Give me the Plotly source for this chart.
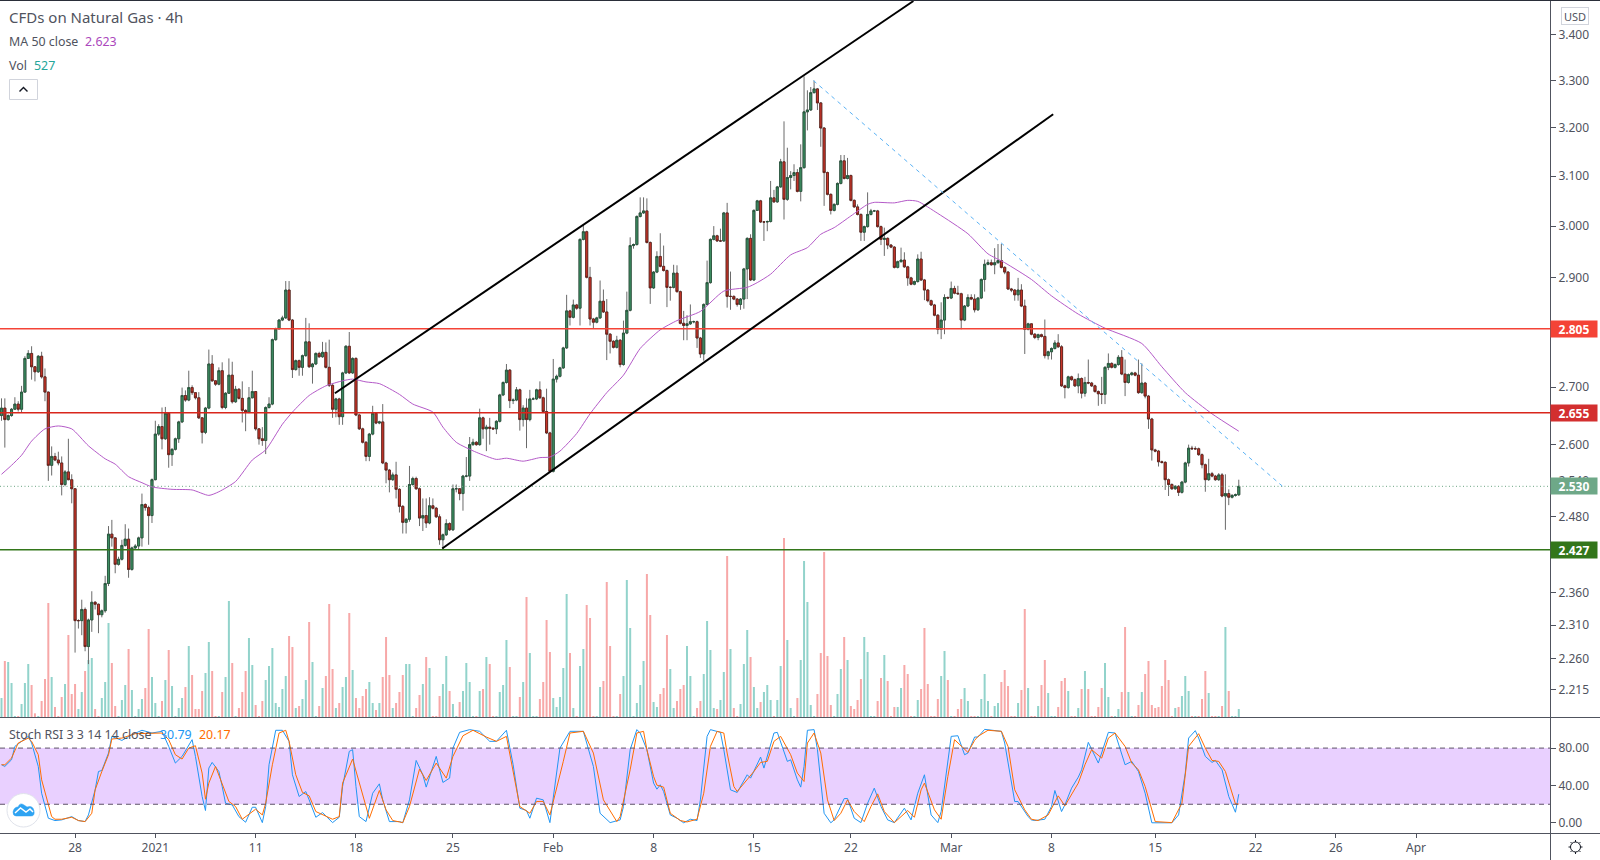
import numpy as np
import plotly.graph_objects as go

# price bars, 4h, one value per bar
first_open = 2.650
closes = [
    2.663, 2.643, 2.650, 2.661, 2.670, 2.661, 2.691, 2.751, 2.760, 2.736,
    2.727, 2.755, 2.718, 2.691, 2.565, 2.580, 2.574, 2.569, 2.533, 2.554,
    2.541, 2.526, 2.317, 2.317, 2.334, 2.278, 2.318, 2.345, 2.342, 2.326,
    2.332, 2.374, 2.452, 2.446, 2.404, 2.412, 2.434, 2.444, 2.396, 2.430,
    2.433, 2.446, 2.500, 2.495, 2.482, 2.541, 2.618, 2.631, 2.610, 2.654,
    2.583, 2.592, 2.610, 2.639, 2.685, 2.677, 2.699, 2.690, 2.681, 2.646,
    2.621, 2.663, 2.741, 2.711, 2.705, 2.729, 2.664, 2.689, 2.721, 2.674,
    2.696, 2.680, 2.659, 2.656, 2.681, 2.692, 2.627, 2.610, 2.607, 2.664,
    2.670, 2.785, 2.805, 2.821, 2.825, 2.877, 2.821, 2.731, 2.747, 2.735,
    2.756, 2.781, 2.736, 2.741, 2.760, 2.754, 2.762, 2.735, 2.703, 2.661,
    2.679, 2.648, 2.725, 2.773, 2.725, 2.751, 2.651, 2.627, 2.604, 2.580,
    2.618, 2.654, 2.637, 2.639, 2.569, 2.557, 2.541, 2.549, 2.525, 2.497,
    2.471, 2.476, 2.533, 2.543, 2.526, 2.478, 2.482, 2.470, 2.498, 2.494,
    2.480, 2.443, 2.451, 2.469, 2.459, 2.526, 2.526, 2.518, 2.547, 2.547,
    2.600, 2.604, 2.600, 2.646, 2.627, 2.630, 2.628, 2.627, 2.640, 2.686,
    2.708, 2.730, 2.676, 2.677, 2.695, 2.643, 2.663, 2.643, 2.679, 2.679,
    2.695, 2.681, 2.657, 2.620, 2.555, 2.714, 2.719, 2.734, 2.770, 2.838,
    2.826, 2.849, 2.843, 2.974, 2.989, 2.901, 2.823, 2.817, 2.825, 2.856,
    2.836, 2.795, 2.782, 2.771, 2.784, 2.740, 2.797, 2.839, 2.962, 2.964,
    3.019, 3.026, 3.030, 2.968, 2.881, 2.911, 2.941, 2.922, 2.914, 2.882,
    2.882, 2.909, 2.874, 2.815, 2.811, 2.814, 2.818, 2.818, 2.788, 2.759,
    2.850, 2.891, 2.974, 2.981, 2.971, 2.971, 3.026, 2.865, 2.865, 2.860,
    2.850, 2.860, 2.917, 2.976, 2.896, 3.031, 3.050, 3.008, 3.008, 3.009,
    3.056, 3.048, 3.078, 3.129, 3.053, 3.097, 3.101, 3.107, 3.069, 3.117,
    3.233, 3.237, 3.274, 3.282, 3.252, 3.199, 3.107, 3.063, 3.031, 3.043,
    3.085, 3.131, 3.095, 3.101, 3.051, 3.038, 3.023, 2.988, 2.999, 3.023,
    3.030, 3.030, 2.999, 2.974, 2.976, 2.963, 2.959, 2.920, 2.931, 2.934,
    2.921, 2.900, 2.888, 2.893, 2.936, 2.896, 2.877, 2.857, 2.849, 2.830,
    2.804, 2.821, 2.863, 2.862, 2.880, 2.871, 2.870, 2.821, 2.847, 2.863,
    2.860, 2.840, 2.862, 2.897, 2.926, 2.929, 2.925, 2.929, 2.933, 2.920,
    2.911, 2.879, 2.877, 2.868, 2.877, 2.847, 2.804, 2.814, 2.795, 2.789,
    2.794, 2.791, 2.756, 2.763, 2.769, 2.779, 2.772, 2.702, 2.699, 2.718,
    2.713, 2.702, 2.715, 2.689, 2.708, 2.707, 2.702, 2.692, 2.688, 2.687,
    2.735, 2.742, 2.735, 2.740, 2.753, 2.723, 2.708, 2.722, 2.725, 2.721,
    2.690, 2.707, 2.684, 2.644, 2.591, 2.589, 2.571, 2.570, 2.541, 2.533,
    2.526, 2.530, 2.520, 2.537, 2.569, 2.594, 2.593, 2.593, 2.583, 2.566,
    2.541, 2.551, 2.547, 2.541, 2.549, 2.514, 2.518, 2.512, 2.515, 2.516,
    2.530,
]
highs = [
    2.680, 2.680, 2.652, 2.663, 2.682, 2.675, 2.702, 2.755, 2.766, 2.773,
    2.737, 2.757, 2.763, 2.733, 2.692, 2.597, 2.586, 2.588, 2.580, 2.557,
    2.610, 2.550, 2.526, 2.319, 2.349, 2.337, 2.320, 2.362, 2.347, 2.343,
    2.334, 2.386, 2.465, 2.475, 2.447, 2.416, 2.443, 2.468, 2.461, 2.432,
    2.436, 2.448, 2.518, 2.502, 2.498, 2.543, 2.641, 2.635, 2.664, 2.665,
    2.655, 2.594, 2.612, 2.641, 2.699, 2.694, 2.729, 2.703, 2.691, 2.691,
    2.647, 2.665, 2.767, 2.757, 2.712, 2.735, 2.744, 2.691, 2.751, 2.745,
    2.702, 2.698, 2.710, 2.661, 2.700, 2.729, 2.693, 2.628, 2.630, 2.666,
    2.682, 2.787, 2.807, 2.823, 2.829, 2.894, 2.894, 2.823, 2.749, 2.749,
    2.758, 2.825, 2.815, 2.743, 2.762, 2.763, 2.781, 2.780, 2.785, 2.705,
    2.681, 2.681, 2.727, 2.775, 2.799, 2.753, 2.753, 2.653, 2.629, 2.606,
    2.620, 2.667, 2.656, 2.641, 2.670, 2.571, 2.559, 2.553, 2.571, 2.527,
    2.499, 2.478, 2.564, 2.546, 2.546, 2.528, 2.510, 2.510, 2.512, 2.510,
    2.496, 2.484, 2.453, 2.476, 2.471, 2.533, 2.533, 2.527, 2.549, 2.579,
    2.613, 2.610, 2.606, 2.662, 2.648, 2.634, 2.646, 2.630, 2.642, 2.688,
    2.710, 2.741, 2.732, 2.680, 2.700, 2.697, 2.668, 2.680, 2.695, 2.682,
    2.697, 2.710, 2.683, 2.697, 2.622, 2.750, 2.722, 2.736, 2.772, 2.868,
    2.840, 2.859, 2.851, 2.976, 3.003, 2.991, 2.921, 2.825, 2.827, 2.895,
    2.878, 2.860, 2.797, 2.784, 2.792, 2.786, 2.820, 2.874, 2.978, 2.966,
    3.021, 3.057, 3.057, 3.055, 2.970, 2.913, 2.951, 2.986, 2.962, 2.916,
    2.884, 2.925, 2.924, 2.876, 2.838, 2.830, 2.850, 2.820, 2.820, 2.790,
    2.852, 2.933, 2.976, 3.000, 2.983, 2.995, 3.028, 3.046, 2.912, 2.867,
    2.862, 2.862, 2.919, 2.978, 2.984, 3.033, 3.052, 3.052, 3.010, 3.011,
    3.090, 3.072, 3.080, 3.135, 3.213, 3.158, 3.110, 3.124, 3.114, 3.165,
    3.309, 3.279, 3.286, 3.300, 3.284, 3.254, 3.201, 3.109, 3.065, 3.045,
    3.087, 3.143, 3.143, 3.137, 3.103, 3.053, 3.043, 3.025, 3.001, 3.067,
    3.034, 3.032, 3.032, 3.001, 2.997, 2.978, 2.965, 2.961, 2.933, 2.958,
    2.949, 2.923, 2.902, 2.895, 2.945, 2.950, 2.898, 2.879, 2.859, 2.851,
    2.832, 2.854, 2.869, 2.865, 2.893, 2.885, 2.885, 2.872, 2.849, 2.869,
    2.869, 2.869, 2.864, 2.899, 2.935, 2.935, 2.935, 2.957, 2.965, 2.965,
    2.922, 2.913, 2.881, 2.879, 2.900, 2.888, 2.859, 2.816, 2.815, 2.797,
    2.796, 2.796, 2.822, 2.765, 2.771, 2.784, 2.795, 2.775, 2.704, 2.720,
    2.720, 2.715, 2.724, 2.717, 2.718, 2.749, 2.709, 2.704, 2.694, 2.718,
    2.737, 2.760, 2.744, 2.742, 2.757, 2.766, 2.749, 2.724, 2.727, 2.727,
    2.749, 2.742, 2.709, 2.686, 2.646, 2.593, 2.591, 2.573, 2.572, 2.543,
    2.535, 2.532, 2.532, 2.539, 2.571, 2.600, 2.598, 2.597, 2.595, 2.585,
    2.568, 2.576, 2.554, 2.549, 2.552, 2.552, 2.550, 2.525, 2.517, 2.518,
    2.541,
]
lows = [
    2.641, 2.595, 2.641, 2.648, 2.660, 2.657, 2.655, 2.690, 2.750, 2.713,
    2.710, 2.725, 2.715, 2.675, 2.539, 2.548, 2.572, 2.565, 2.515, 2.530,
    2.540, 2.502, 2.269, 2.305, 2.295, 2.271, 2.252, 2.300, 2.334, 2.298,
    2.322, 2.329, 2.370, 2.432, 2.390, 2.402, 2.410, 2.432, 2.383, 2.394,
    2.428, 2.427, 2.432, 2.490, 2.435, 2.470, 2.540, 2.615, 2.592, 2.608,
    2.561, 2.564, 2.590, 2.603, 2.637, 2.674, 2.675, 2.686, 2.678, 2.644,
    2.602, 2.618, 2.661, 2.709, 2.702, 2.703, 2.661, 2.661, 2.688, 2.671,
    2.672, 2.678, 2.638, 2.623, 2.654, 2.680, 2.624, 2.600, 2.598, 2.584,
    2.662, 2.668, 2.783, 2.803, 2.819, 2.823, 2.819, 2.716, 2.729, 2.720,
    2.720, 2.754, 2.734, 2.706, 2.739, 2.752, 2.752, 2.733, 2.700, 2.646,
    2.647, 2.634, 2.634, 2.723, 2.723, 2.723, 2.649, 2.625, 2.602, 2.572,
    2.572, 2.616, 2.635, 2.635, 2.567, 2.535, 2.520, 2.539, 2.510, 2.487,
    2.453, 2.453, 2.472, 2.531, 2.524, 2.465, 2.457, 2.462, 2.468, 2.492,
    2.478, 2.435, 2.428, 2.449, 2.457, 2.457, 2.520, 2.507, 2.490, 2.545,
    2.539, 2.598, 2.598, 2.598, 2.610, 2.589, 2.600, 2.625, 2.618, 2.638,
    2.684, 2.706, 2.663, 2.670, 2.675, 2.624, 2.631, 2.594, 2.640, 2.677,
    2.677, 2.679, 2.655, 2.618, 2.553, 2.553, 2.708, 2.717, 2.732, 2.768,
    2.811, 2.824, 2.840, 2.811, 2.972, 2.899, 2.811, 2.805, 2.815, 2.823,
    2.834, 2.748, 2.760, 2.769, 2.769, 2.735, 2.738, 2.795, 2.837, 2.956,
    2.962, 3.017, 3.024, 2.966, 2.851, 2.879, 2.909, 2.920, 2.912, 2.845,
    2.857, 2.880, 2.872, 2.813, 2.784, 2.784, 2.812, 2.815, 2.770, 2.752,
    2.747, 2.848, 2.889, 2.972, 2.969, 2.969, 2.969, 2.844, 2.840, 2.858,
    2.846, 2.840, 2.842, 2.860, 2.894, 2.894, 3.030, 3.006, 2.971, 2.990,
    3.007, 3.046, 3.046, 3.076, 3.013, 3.050, 3.073, 3.090, 3.067, 3.049,
    3.115, 3.194, 3.235, 3.272, 3.237, 3.160, 3.040, 3.061, 3.023, 3.029,
    3.041, 3.083, 3.093, 3.093, 3.049, 3.036, 3.021, 2.971, 2.971, 2.997,
    3.021, 3.028, 2.997, 2.963, 2.942, 2.955, 2.957, 2.918, 2.918, 2.929,
    2.919, 2.885, 2.886, 2.886, 2.891, 2.894, 2.858, 2.854, 2.847, 2.828,
    2.795, 2.786, 2.795, 2.860, 2.860, 2.869, 2.868, 2.804, 2.819, 2.845,
    2.858, 2.835, 2.838, 2.860, 2.874, 2.924, 2.923, 2.907, 2.927, 2.918,
    2.907, 2.877, 2.873, 2.857, 2.857, 2.845, 2.759, 2.802, 2.793, 2.786,
    2.784, 2.789, 2.751, 2.749, 2.749, 2.767, 2.770, 2.700, 2.680, 2.697,
    2.711, 2.700, 2.689, 2.680, 2.683, 2.705, 2.700, 2.690, 2.667, 2.670,
    2.670, 2.730, 2.733, 2.733, 2.738, 2.721, 2.684, 2.706, 2.720, 2.719,
    2.688, 2.688, 2.680, 2.627, 2.573, 2.587, 2.563, 2.568, 2.524, 2.514,
    2.524, 2.524, 2.514, 2.518, 2.535, 2.563, 2.591, 2.591, 2.581, 2.560,
    2.521, 2.539, 2.545, 2.539, 2.539, 2.512, 2.459, 2.499, 2.510, 2.513,
    2.514,
]
volumes = [
    1254, 3696, 3630, 2244, 22, 22, 858, 2244, 3498, 2112,
    242, 22, 1056, 2508, 7524, 2640, 660, 22, 1320, 2178,
    5412, 1518, 2178, 528, 1650, 3036, 3762, 3894, 528, 22,
    1254, 2310, 6204, 3564, 726, 22, 1122, 2112, 4488, 1782,
    22, 528, 1188, 1914, 5808, 2640, 924, 22, 1056, 2442,
    4422, 2046, 22, 594, 1254, 1980, 4686, 2772, 528, 528,
    1716, 2904, 4950, 3036, 22, 22, 1650, 2640, 7656, 3564,
    22, 594, 1650, 3036, 5214, 3432, 792, 22, 1056, 2442,
    3366, 4554, 924, 660, 1848, 2706, 5346, 4620, 594, 726,
    1188, 2442, 6270, 3630, 22, 726, 1914, 2706, 7458, 3168,
    594, 924, 1980, 2640, 6864, 3102, 1254, 594, 1386, 1848,
    2310, 924, 462, 924, 2640, 5280, 2772, 594, 924, 1650,
    2772, 3498, 3498, 22, 594, 1452, 2178, 3960, 3234, 22,
    22, 1386, 2178, 4026, 1716, 858, 22, 990, 1716, 3564,
    2310, 22, 22, 1716, 1848, 3960, 3498, 22, 22, 1650,
    2112, 5082, 3300, 22, 22, 1320, 2310, 7920, 4224, 22,
    22, 1188, 2310, 6402, 4290, 1254, 660, 1320, 3234, 8118,
    4224, 594, 22, 3366, 4488, 7392, 6534, 22, 22, 1980,
    2376, 8910, 4686, 22, 22, 1518, 2706, 9042, 5874, 22,
    924, 2112,
    3696, 9438, 6732, 990, 660, 1518, 1914, 5412, 3168, 594,
    1056, 1848, 2112, 4686, 2706, 22, 594, 1056, 2838, 6336,
    4422, 594, 528, 1122, 2970, 10626, 4488, 594, 22, 858,
    3498, 5742, 3960, 1980, 594, 990, 1650, 2112, 1122, 22,
    1122, 3366, 11814, 5082, 594, 22, 1254, 3762, 10296, 7590,
    792, 22, 1518, 4224, 10890, 4026, 792, 22, 1518, 3168,
    5280, 3762, 726, 528, 1122, 2508, 5280, 4290, 22, 22,
    1056, 2574, 4092, 2376, 22, 660, 660, 1914, 3432, 2838,
    22, 22, 1122, 1848, 5874, 2178, 22, 22, 1188, 2706,
    4356, 2442, 22, 22, 528, 1188, 1914, 1056, 22, 22,
    22, 1188, 2838, 1056, 22, 726, 924, 2310, 3102, 2046,
    22, 22, 924, 1782, 7128, 1914, 22, 22, 726, 2112,
    3762, 1584, 22, 22, 660, 2376, 2574, 1716, 22, 22,
    594, 1848, 3036, 1848, 22, 22, 660, 1914, 3564, 1320,
    22, 22, 528, 1650, 5940, 1650, 22, 22, 792, 1650,
    2838, 3696, 792, 594, 660, 2046, 3762, 2442, 22, 594,
    660, 1386, 2706, 1716, 22, 22, 22, 1188, 3036, 1584,
    22, 22, 22, 726, 5940, 1716, 22, 22, 527,
]

# moving average read at these bars
ma_bars = [
    0, 3, 6, 9, 13, 17, 21, 26, 31, 34, 38, 42, 45, 51, 57, 62, 65, 70, 75, 79,
    84, 87, 92, 97, 102, 105, 109, 113, 119, 123, 129, 132, 136, 142, 148, 151,
    156, 161, 164, 167, 172, 176, 181, 186, 191, 197, 202, 209, 216, 223, 226,
    230, 236, 241, 245, 249, 254, 259, 261, 267, 271, 274, 280, 289, 295, 300,
    308, 314, 322, 330, 341, 347, 354, 362, 370,
]
ma_values = [
    2.550, 2.565, 2.582, 2.606, 2.627, 2.632, 2.627, 2.598, 2.576, 2.567, 2.546,
    2.536, 2.529, 2.525, 2.524, 2.515, 2.521, 2.538, 2.574, 2.591, 2.635, 2.656,
    2.685, 2.702, 2.711, 2.714, 2.709, 2.706, 2.687, 2.670, 2.656, 2.630, 2.604,
    2.587, 2.575, 2.577, 2.572, 2.578, 2.579, 2.589, 2.619, 2.653, 2.690, 2.721,
    2.769, 2.803, 2.820, 2.837, 2.875, 2.882, 2.891, 2.907, 2.944, 2.958, 2.984,
    2.997, 3.020, 3.043, 3.047, 3.046, 3.051, 3.049, 3.025, 2.985, 2.946, 2.929,
    2.897, 2.866, 2.832, 2.806, 2.778, 2.736, 2.690, 2.653, 2.623,
]

# stoch rsi read at these bars
k_bars = [
    0, 1, 3, 4, 6, 8, 9, 11, 12, 14, 16, 18, 21, 23, 25, 26, 28, 29, 30, 32, 33, 35,
    36, 39, 42, 45, 48, 50, 52, 54, 57, 58, 60, 61, 62, 63, 65, 66, 67, 69, 71, 73,
    75, 76, 78, 79, 80, 82, 84, 86, 87, 89, 91, 92, 94, 96, 99, 101, 102, 104, 105,
    106, 107, 109, 111, 113, 114, 116, 119, 120, 122, 124, 126, 127, 130, 132, 134,
    135, 137, 140, 143, 146, 148, 151, 153, 155, 157, 158, 160, 162, 164, 167, 170,
    174, 177, 179, 182, 185, 186, 188, 190, 191, 193, 195, 196, 197, 198, 200, 202,
    204, 206, 208, 209, 211, 212, 215, 216, 218, 220, 223, 224, 227, 228, 231, 232,
    235, 236, 238, 239, 240, 241, 243, 244, 246, 248, 249, 252, 253, 255, 257, 259,
    261, 263, 265, 267, 270, 272, 274, 276, 278, 280, 281, 284, 286, 288, 289, 291,
    292, 294, 299, 300, 303, 304, 307, 308, 309, 312, 314, 315, 317, 318, 320, 322,
    323, 324, 325, 328, 331, 333, 336, 338, 340, 342, 344, 350, 352, 354, 355, 357,
    358, 360, 362, 363, 365, 367, 369, 370,
]
k_values = [
    62.2, 60.4, 67.5, 81.8, 87.2, 92.5, 85.4, 60.4, 31.8, 5.1, 2.6, 3.3, 6.8, 2.6, 1.5,
    8.6, 35.4, 55, 56.1, 74.7, 92.5, 89.7, 88.2, 94.3, 99, 96.1, 97.9, 81.8, 64, 71.1,
    89, 71.1, 28.3, 13.3, 58.6, 64.7, 55, 39, 21.1, 19.3, 6.8, 0.8, 16.8, 16.8, 0.4,
    17.6, 62.2, 99, 99, 87.2, 51.5, 28.3, 33.6, 24.7, 6.1, 11.1, 0.4, 6.1, 39, 76.5,
    78.3, 39, 6.8, 1.5, 31.8, 41.8, 24.7, 1.5, 1.5, 0.2, 24.7, 66.8, 51.5, 38.3, 71.1,
    43.3, 47.9, 80, 96.8, 99.7, 97.9, 87.2, 87.2, 99, 62.2, 15.8, 13.3, 5.1, 26.5, 24.7,
    0.4, 80, 97.9, 97.9, 60.4, 10.4, 0.4, 3.3, 17.6, 78.3, 99.7, 96.1, 78.3, 42.6, 36.1,
    40.8, 33.6, 8.6, 5.1, 0.2, 4, 2.6, 24.7, 92.5, 99.7, 96.8, 78.3, 35.4, 32.6, 51.5,
    47.9, 70.4, 58.6, 96.1, 96.8, 65.8, 67.5, 46.1, 38.3, 60.4, 99, 99.7, 78.3, 10.4,
    0.2, 3.3, 26.1, 26.1, 5.1, 0.4, 21.1, 37.2, 17.6, 3.3, 0.4, 15.8, 3.3, 31.8, 51.5,
    8.6, 0.4, 12.2, 92.5, 93.2, 72.9, 74.7, 91.8, 91.8, 100, 97.9, 85.4, 22.9, 22.9,
    6.8, 3.3, 2.6, 4, 17.6, 34.7, 12.2, 19.3, 37.2, 49, 56.8, 71.1, 86.1, 64, 96.8,
    96.1, 62.2, 65.8, 55, 31.8, 0.2, 0.2, 8.6, 53.3, 90.7, 98.6, 90.7, 71.1, 64.7,
    66.8, 56.8, 28.3, 11.5, 30.79,
]
d_bars = [
    0, 1, 3, 5, 8, 9, 11, 12, 15, 16, 18, 21, 23, 25, 27, 28, 30, 32, 33, 36, 40, 45,
    48, 50, 52, 54, 56, 58, 60, 61, 62, 64, 66, 68, 70, 72, 76, 78, 79, 81, 83, 85, 86,
    88, 90, 92, 94, 96, 99, 101, 102, 105, 107, 110, 113, 115, 117, 120, 122, 125, 127,
    130, 133, 135, 138, 141, 145, 148, 151, 153, 155, 158, 160, 162, 164, 168, 170,
    174, 177, 180, 184, 185, 188, 190, 192, 193, 195, 196, 198, 200, 203, 205, 208,
    210, 212, 214, 216, 217, 219, 220, 223, 225, 227, 229, 231, 233, 236, 238, 240,
    241, 243, 245, 247, 249, 251, 253, 255, 258, 260, 262, 264, 267, 269, 271, 273,
    275, 276, 279, 281, 283, 285, 287, 289, 291, 292, 295, 299, 301, 303, 306, 308,
    310, 313, 316, 318, 322, 324, 326, 329, 331, 333, 336, 338, 340, 342, 345, 350,
    353, 355, 358, 360, 362, 364, 366, 369, 370,
]
d_values = [
    62.2, 62.2, 69.3, 85.4, 90.7, 87.2, 72.9, 46.1, 6.8, 4, 4, 6.1, 2.6, 1.5, 10.4, 35.4,
    55, 72.9, 89.7, 90.7, 95.4, 96.1, 96.1, 89, 72.9, 68.3, 80, 82.5, 53.3, 25.4, 42.6,
    60.4, 42.6, 23, 17.6, 4, 14.7, 8.6, 21.1, 62.2, 96.1, 99, 87.2, 51.5, 32.6, 29, 12.2,
    8.6, 4, 6.8, 42.6, 68.3, 42.6, 5, 34.7, 14, 2.6, 0.4, 17.6, 57.5, 45.4, 64, 47.9,
    71.1, 93.2, 99, 91.8, 87.2, 92.5, 53.3, 17.6, 10.4, 23, 23, 8.6, 65.8, 96.1, 97.9,
    74.7, 24.7, 1.5, 6.8, 56.8, 96.1, 97.9, 78.3, 49.7, 40.4, 38.3, 10.4, 2.6, 1.1, 4,
    31.8, 81.8, 97.9, 96.1, 74.7, 39, 33.6, 46.1, 55, 64.7, 65.8, 87.2, 92.5, 72.9, 53.3,
    44.3, 85.4, 96.1, 74.7, 24.7, 2.6, 10.4, 24.7, 12.2, 1.5, 17.6, 31.1, 12.2, 0.4, 6.8,
    13.3, 6.1, 35.4, 42.6, 14, 4, 49.7, 89, 82.5, 75.4, 88.2, 92.5, 99, 97.9, 81.8, 35.4,
    14, 4, 2.6, 8.6, 29, 18.3, 42.6, 62.2, 78.3, 69.3, 90.7, 96.1, 81.8, 64, 56.8, 39,
    1.5, 0.4, 21.1, 81.8, 95.4, 80, 66.8, 65.8, 55, 20.4, 20.17,
]

# drawn trend lines, (bar, price) at each end
upper_channel_bars = [99.7, 272.7]
upper_channel_prices = [2.689, 3.4765]
lower_channel_bars = [131.8, 314.5]
lower_channel_prices = [2.429, 3.228]
down_trend_bars = [242.8, 383.1]
down_trend_prices = [3.30, 2.53]

tick_bars = [22, 46, 76, 106, 135, 165, 195, 225, 254, 284, 314, 345, 375, 399, 423]
tick_labels = ["28", "2021", "11", "18", "25", "Feb", "8", "15", "22", "Mar", "8", "15", "22", "26", "Apr"]
price_ticks = [3.4, 3.3, 3.2, 3.1, 3.0, 2.9, 2.7, 2.6, 2.54, 2.48, 2.36, 2.31, 2.26, 2.215]
stoch_ticks = [0, 40, 80]

res_high = 2.805
res_low = 2.655
last_price = 2.530
support = 2.427

W, H = 1600, 860
PANE_W, PANE_H = 1550, 833
BOTTOM_H = 116
FONT = "Noto Sans"
TXT = "#50535e"
AXIS = "#50535e"
UP, DOWN = "#3e8e63", "#c9362a"
UP_LINE, DOWN_LINE = "#1e4d34", "#5a1a12"
VOL_UP, VOL_DOWN = "#92d3cb", "#f7a8a8"


def fx(x):
    return x / PANE_W


def fy(y):
    return (PANE_H - y) / PANE_H


def pt(x, y):
    return f"{fx(x):.5f},{fy(y):.5f}"


n = len(closes)
bars = np.arange(n)
opens = [first_open] + closes[:-1]
x_range = [-1.5 / 3.344, (PANE_W - 1.5) / 3.344]
vol_colors = [VOL_UP if c >= o else VOL_DOWN for o, c in zip(opens, closes)]

fig = go.Figure()
fig.add_trace(go.Bar(x=bars, y=volumes, marker=dict(color=vol_colors, line_width=0), yaxis="y", width=0.6))

# wicks first, then bodies on top so the wick can stay grey
fig.add_trace(go.Candlestick(x=bars, open=opens, high=highs, low=lows, close=closes, yaxis="y3",
                             whiskerwidth=0,
                             increasing=dict(line=dict(color="#6a6a6a", width=1), fillcolor="#6a6a6a"),
                             decreasing=dict(line=dict(color="#6a6a6a", width=1), fillcolor="#6a6a6a")))
fig.add_trace(go.Candlestick(x=bars, open=opens, close=closes, yaxis="y3",
                             high=[max(o, c) for o, c in zip(opens, closes)],
                             low=[min(o, c) for o, c in zip(opens, closes)],
                             whiskerwidth=0,
                             increasing=dict(line=dict(color=UP_LINE, width=0.7), fillcolor=UP),
                             decreasing=dict(line=dict(color=DOWN_LINE, width=0.7), fillcolor=DOWN)))

fig.add_trace(go.Scatter(x=ma_bars, y=ma_values, mode="lines", yaxis="y3",
                         line=dict(color="#b45ac8", width=1, shape="spline", smoothing=0.6)))

for level, col, dash in [(res_high, "#f44336", "solid"), (res_low, "#d9261c", "solid"),
                         (support, "#33761a", "solid"), (last_price, "#6ba583", "1px,2.5px")]:
    fig.add_trace(go.Scatter(x=x_range, y=[level, level], mode="lines", yaxis="y3",
                             line=dict(color=col, width=1.5 if dash == "solid" else 1, dash=dash)))

fig.add_trace(go.Scatter(x=upper_channel_bars, y=upper_channel_prices, mode="lines", yaxis="y3",
                         line=dict(color="#000000", width=2)))
fig.add_trace(go.Scatter(x=lower_channel_bars, y=lower_channel_prices, mode="lines", yaxis="y3",
                         line=dict(color="#000000", width=2)))
fig.add_trace(go.Scatter(x=down_trend_bars, y=down_trend_prices, mode="lines", yaxis="y3",
                         line=dict(color="#5cb3f5", width=1, dash="4px,4px")))

fig.add_trace(go.Scatter(x=k_bars, y=k_values, mode="lines", yaxis="y2", line=dict(color="#2196f3", width=1)))
fig.add_trace(go.Scatter(x=d_bars, y=d_values, mode="lines", yaxis="y2", line=dict(color="#ff6d00", width=1)))

shapes = [
    dict(type="rect", xref="paper", yref="y2", x0=0, x1=1, y0=20, y1=80, layer="below",
         fillcolor="#e9d0ff", line_width=0),
    dict(type="line", xref="paper", yref="y2", x0=0, x1=1, y0=80, y1=80, line=dict(color="#5d5368", width=1, dash="5px,4px")),
    dict(type="line", xref="paper", yref="y2", x0=0, x1=1, y0=20, y1=20, line=dict(color="#5d5368", width=1, dash="5px,4px")),
    # frame
    dict(type="line", xref="paper", yref="paper", x0=0, x1=W / PANE_W, y0=fy(717.5), y1=fy(717.5), line=dict(color=AXIS, width=1)),
    dict(type="line", xref="paper", yref="paper", x0=0, x1=W / PANE_W, y0=fy(833.5), y1=fy(833.5), line=dict(color=AXIS, width=1)),
    dict(type="line", xref="paper", yref="paper", x0=fx(1550.5), x1=fx(1550.5), y0=fy(0), y1=fy(860), line=dict(color=AXIS, width=1)),
    dict(type="line", xref="paper", yref="paper", x0=0, x1=W / PANE_W, y0=fy(0.5), y1=fy(0.5), line=dict(color="#2a2e39", width=1)),
    # collapse button
    dict(type="rect", xref="paper", yref="paper", x0=fx(9.5), x1=fx(37.5), y0=fy(79.5), y1=fy(99.5), line=dict(color="#d1d4dc", width=1)),
    dict(type="path", xref="paper", yref="paper", path=f"M {pt(19.5, 91.5)} L {pt(23.5, 87.5)} L {pt(27.5, 91.5)}", line=dict(color="#131722", width=1.4)),
    # logo
    dict(type="circle", xref="paper", yref="paper", x0=fx(7), x1=fx(40), y0=fy(793.5), y1=fy(827), fillcolor="#ffffff", line=dict(color="#e0e3eb", width=1)),
    dict(type="path", xref="paper", yref="paper", fillcolor="#2ea3f2", line=dict(color="#2ea3f2", width=0.5),
         path=f"M {pt(13, 812)} Q {pt(14, 807)} {pt(18, 807)} Q {pt(20, 802)} {pt(24, 805)} L {pt(27, 807)} Q {pt(33, 805)} {pt(34, 811)} Q {pt(35, 816)} {pt(31, 816)} L {pt(16, 816)} Q {pt(13, 816)} {pt(13, 812)} Z"),
    dict(type="path", xref="paper", yref="paper", line=dict(color="#ffffff", width=1.5),
         path=f"M {pt(15, 813)} L {pt(20.5, 808)} L {pt(26, 812)} L {pt(30, 809)} L {pt(33, 812)}"),
    # gear
    dict(type="circle", xref="paper", yref="paper", x0=fx(1570.5), x1=fx(1580.5), y0=fy(842), y1=fy(852), line=dict(color="#131722", width=1)),
]
for a in np.arange(0, 360, 45):
    cx, cy = 1575.5 + 5 * np.cos(np.radians(a)), 847 + 5 * np.sin(np.radians(a))
    ox, oy = 1575.5 + 7 * np.cos(np.radians(a)), 847 + 7 * np.sin(np.radians(a))
    shapes.append(dict(type="line", xref="paper", yref="paper", x0=fx(cx), x1=fx(ox), y0=fy(cy), y1=fy(oy), line=dict(color="#131722", width=1)))


def label(x, y, text, size, color=TXT, anchor="left"):
    return dict(xref="paper", yref="paper", x=fx(x), y=fy(y), text=text, showarrow=False, xanchor=anchor, yanchor="middle",
                font=dict(family=FONT, size=size, color=color), borderpad=0, borderwidth=0)


def tag(price, color):
    return dict(xref="paper", yref="y3", x=1, y=np.log10(price), text=f"<b>{price:.3f}</b>", showarrow=False, xanchor="left", yanchor="middle",
                width=46, height=16, align="center", bgcolor=color, borderpad=0, font=dict(family=FONT, size=12, color="#ffffff"))


annotations = [
    label(9, 17, "CFDs on Natural Gas · 4h", 15),
    label(9, 41, "MA 50 close", 12.4),
    label(85, 41, "2.623", 12.4, "#ab47bc"),
    label(9, 65, "Vol", 12.4),
    label(34, 65, "527", 12.4, "#26a69a"),
    label(9, 734, "Stoch RSI 3 3 14 14 close", 12.4),
    label(160, 734, "30.79", 12.4, "#2196f3"),
    label(199, 734, "20.17", 12.4, "#ff6d00"),
    tag(res_high, "#f44336"),
    tag(res_low, "#d32f2f"),
    tag(last_price, "#6ea888"),
    tag(support, "#33761a"),
    dict(xref="paper", yref="paper", x=fx(1575), y=fy(16), text="USD", showarrow=False, xanchor="center", yanchor="middle",
         width=26, height=16, bordercolor="#d1d4dc", borderwidth=1, borderpad=0, font=dict(family=FONT, size=11, color=TXT)),
]

fig.update_layout(
    width=W, height=H, margin=dict(l=0, r=W - PANE_W, t=0, b=H - PANE_H),
    paper_bgcolor="#ffffff", plot_bgcolor="#ffffff", showlegend=False, bargap=0.4, boxgap=0.12,
    shapes=shapes, annotations=annotations, font=dict(family=FONT, size=12, color=TXT),
    xaxis=dict(range=x_range, anchor="y2", rangeslider_visible=False, showgrid=False, zeroline=False,
               tickvals=tick_bars, ticktext=tick_labels, ticks="outside", ticklen=4, tickcolor=AXIS,
               tickfont=dict(family=FONT, size=12, color=TXT)),
    yaxis=dict(domain=[BOTTOM_H / PANE_H, 1], range=[0, 717 * 66], visible=False),
    yaxis2=dict(domain=[0, BOTTOM_H / PANE_H], range=[-10.7, 113.2], side="right", showgrid=False, zeroline=False,
                tickvals=stoch_ticks, ticktext=[f"{v:.2f}" for v in stoch_ticks], ticks="outside", ticklen=5, tickcolor=AXIS,
                tickfont=dict(family=FONT, size=12, color=TXT)),
    yaxis3=dict(overlaying="y", side="right", anchor="x", type="log", range=[0.33752, 0.54142], showgrid=False, zeroline=False,
                tickvals=price_ticks, ticktext=[f"{v:.3f}" for v in price_ticks], ticks="outside", ticklen=5, tickcolor=AXIS,
                tickfont=dict(family=FONT, size=12, color=TXT)),
)

fig.write_html("out.html", config=dict(displayModeBar=False),
               post_script="document.body.style.margin='0';document.body.style.overflow='hidden';")
